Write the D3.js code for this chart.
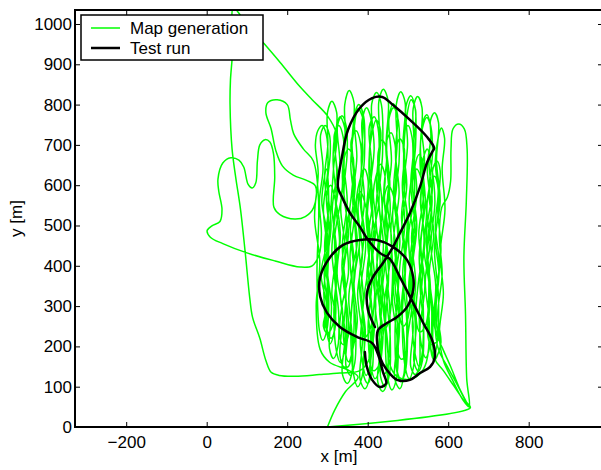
<!DOCTYPE html>
<html>
<head>
<meta charset="utf-8">
<script src="https://cdn.jsdelivr.net/npm/d3@7"></script>
<style>
  body { margin: 0; background: #fff; }
  svg { display: block; }
  text { font-family: "Liberation Sans", Arial, Helvetica, sans-serif; fill: #000; }
</style>
</head>
<body>
<svg id="chart" width="601" height="470"></svg>
<script>
// ---- data -------------------------------------------------------------
const xTicks = [-200, 0, 200, 400, 600, 800];
const yTicks = [0, 100, 200, 300, 400, 500, 600, 700, 800, 900, 1000];
const seriesNames = ["Map generation", "Test run"];
const seriesColors = ["#00ff00", "#000000"];
const xLabel = "x [m]";
const yLabel = "y [m]";

// survey (map generation) track, metres
const mapRun = [
  [300, 0], [318, 42], [345, 88], [376, 124], [350, 142], [306, 160], [282, 192],
  // pass A: west to east
  [272, 300], [281, 410], [268, 520], [277, 630], [270, 700], [276, 735], [287, 748], [297, 726], [301, 640], [290, 540],
  [299, 440], [291, 330], [298, 240], [306, 206], [315, 228],
  [321, 330], [311, 440], [322, 560], [314, 660], [320, 735], [331, 770], [343, 742], [340, 660], [349, 560], [337, 450],
  [346, 330], [340, 220], [352, 162], [361, 186],
  [366, 300], [356, 420], [368, 540], [358, 650], [366, 740], [376, 790], [388, 765], [384, 660], [392, 560], [379, 450],
  [389, 320], [382, 200], [396, 128], [405, 150],
  [411, 280], [401, 400], [413, 520], [403, 640], [410, 725], [421, 762], [432, 736], [428, 640], [436, 540], [423, 420],
  [434, 300], [428, 180], [442, 132], [451, 160],
  [455, 290], [444, 420], [456, 540], [447, 660], [453, 770], [463, 802], [474, 776], [469, 680], [478, 580], [465, 470],
  [475, 360], [468, 240], [472, 140], [482, 112], [491, 136],
  [497, 260], [487, 380], [498, 500], [489, 620], [497, 770], [508, 812], [519, 786], [514, 690], [522, 580], [509, 470],
  [519, 360], [511, 250], [518, 180], [527, 150], [534, 172],
  [538, 300], [528, 420], [539, 540], [530, 660], [536, 742], [547, 768], [557, 742], [552, 660], [560, 560], [548, 450],
  [556, 340], [550, 230], [555, 200], [564, 175], [571, 198],
  [576, 320], [566, 440], [577, 560], [568, 660], [576, 722], [583, 742], [591, 716], [585, 640], [592, 540], [580, 430],
  [588, 330], [578, 230], [588, 165],
  // south-east corner, then north along the eastern edge
  [612, 114], [636, 68], [652, 50], [646, 120], [643, 280], [639, 420], [645, 560], [647, 690], [640, 740], [626, 752],
  [612, 740], [607, 690], [606, 610], [598, 570], [584, 545],
  // pass B: east to west
  [578, 470], [585, 380], [574, 280], [582, 210], [576, 185], [566, 165], [557, 190], [563, 280], [553, 380], [564, 480],
  [552, 580], [561, 680], [557, 745], [547, 775], [535, 750], [541, 660], [531, 560], [542, 460], [530, 360], [539, 250],
  [536, 165], [526, 138], [515, 162],
  [521, 260], [510, 380], [522, 500], [511, 600], [519, 700], [518, 790], [507, 822], [495, 795], [499, 700], [490, 600],
  [501, 500], [492, 400], [499, 280], [494, 140], [484, 115], [473, 140],
  [479, 250], [468, 360], [480, 460], [468, 560], [478, 660], [476, 760], [464, 792], [453, 765], [459, 660], [449, 560],
  [460, 450], [447, 340], [456, 220], [454, 130], [443, 100], [432, 125],
  [438, 230], [427, 330], [439, 450], [428, 560], [437, 680], [434, 800], [422, 830], [410, 802], [416, 690], [406, 580],
  [417, 470], [404, 360], [413, 250], [411, 140], [400, 108], [389, 132],
  [394, 240], [383, 340], [395, 450], [384, 560], [392, 670], [390, 770], [378, 800], [367, 772], [373, 670], [363, 560],
  [374, 460], [361, 380], [370, 260], [368, 160], [357, 128], [346, 152],
  [352, 260], [340, 380], [352, 480], [341, 580], [349, 680], [347, 745], [336, 772], [325, 748], [331, 650], [320, 560],
  [330, 460], [319, 380], [328, 280], [326, 200], [315, 170], [305, 195],
  [310, 300], [299, 400], [309, 500], [300, 600], [307, 680], [305, 725], [294, 748], [283, 725], [289, 640], [280, 560],
  [285, 480], [280, 430],
  // western detour
  [262, 400], [232, 397], [170, 412], [100, 432], [40, 455], [9, 471], [1, 487], [13, 499], [33, 510], [38, 540],
  [30, 585], [28, 615], [40, 655], [60, 668], [80, 662], [92, 645], [103, 602], [113, 593], [122, 606], [126, 660],
  [132, 700], [145, 713], [157, 707], [166, 678], [169, 620], [167, 545], [182, 527], [219, 516], [245, 522], [266, 545],
  [270, 598], [248, 612], [215, 625], [188, 648], [172, 685], [160, 740], [147, 780], [152, 805], [175, 812], [200, 800],
  [208, 762], [216, 728], [240, 690], [265, 660], [278, 560], [274, 380], [280, 240], [288, 215], [298, 238],
  // pass C: west to east
  [303, 330], [293, 420], [302, 520], [293, 620], [301, 700], [300, 780], [311, 808], [323, 780], [319, 690], [327, 600],
  [315, 500], [324, 400], [316, 290], [322, 190], [332, 160], [342, 185],
  [347, 290], [336, 400], [348, 510], [337, 620], [345, 720], [343, 800], [354, 835], [366, 805], [361, 700], [369, 600],
  [357, 490], [366, 380], [358, 250], [365, 130], [375, 100], [386, 125],
  [391, 240], [379, 360], [390, 470], [380, 580], [388, 680], [386, 760], [397, 792], [408, 765], [404, 670], [412, 560],
  [400, 460], [410, 360], [401, 250], [408, 150], [418, 120], [429, 145],
  [433, 260], [421, 380], [433, 490], [422, 600], [430, 710], [428, 810], [439, 838], [451, 808], [446, 700], [455, 600],
  [443, 490], [452, 380], [444, 250], [450, 120], [460, 92], [471, 118],
  [475, 240], [463, 360], [475, 470], [464, 580], [473, 700], [471, 800], [482, 832], [493, 805], [488, 700], [497, 600],
  [485, 500], [494, 400], [486, 280], [493, 150], [503, 120], [513, 145],
  [518, 260], [506, 380], [518, 490], [507, 600], [515, 700], [513, 790], [524, 820], [535, 792], [531, 690], [539, 580],
  [527, 480], [536, 380], [528, 280], [534, 200], [544, 172], [554, 198],
  [559, 300], [547, 420], [559, 530], [548, 640], [557, 720], [556, 760], [566, 780], [576, 755], [571, 660], [580, 560],
  [568, 470], [577, 380], [570, 300], [576, 220], [586, 195],
  [606, 150], [628, 96], [650, 52],
  // pass D: back west
  [640, 64], [614, 102], [588, 140], [566, 170],
  [562, 250], [569, 350], [557, 450], [567, 560], [558, 650], [548, 690], [537, 660], [543, 560], [532, 450], [542, 350],
  [530, 250], [528, 150], [518, 130], [507, 150],
  [513, 250], [502, 350], [514, 460], [503, 560], [512, 650], [510, 720], [500, 748], [489, 725], [494, 620], [484, 520],
  [495, 420], [484, 300], [492, 200], [490, 130], [480, 95], [467, 120],
  [473, 220], [461, 320], [472, 420], [462, 520], [470, 620], [468, 700], [458, 730], [446, 705], [452, 600], [442, 500],
  [453, 400], [441, 300], [450, 200], [448, 110], [437, 88], [425, 112],
  [431, 200], [419, 300], [431, 410], [420, 520], [428, 640], [426, 740], [416, 770], [404, 745], [410, 640], [399, 520],
  [410, 420], [398, 320], [407, 220], [404, 120], [393, 95], [381, 118],
  [387, 220], [375, 330], [387, 430], [376, 540], [384, 630], [382, 705], [371, 735], [359, 710], [365, 620], [354, 520],
  [365, 420], [353, 320], [362, 220], [360, 130], [349, 108], [337, 132],
  [344, 230], [332, 330], [344, 440], [333, 540], [341, 640], [339, 720], [328, 748], [317, 725], [323, 630], [312, 540],
  [322, 440], [311, 330], [320, 280], [318, 240], [309, 220], [299, 242],
  [302, 340], [293, 450], [303, 550], [298, 640],
  // pass E: slanted legs, west to east
  [286, 560], [300, 470], [284, 380], [298, 300], [290, 250], [300, 232], [312, 250], [322, 360], [318, 470], [336, 580],
  [340, 660], [352, 690], [364, 668], [360, 580], [348, 480], [352, 380], [336, 300], [330, 230], [338, 205], [350, 220],
  [362, 320], [372, 430], [368, 520], [380, 610], [392, 640], [401, 612], [396, 520], [404, 420], [392, 330], [386, 250],
  [392, 222], [405, 240], [418, 340], [412, 460], [428, 560], [426, 680], [436, 712], [447, 688], [440, 580], [448, 480],
  [436, 380], [430, 280], [440, 240], [452, 262], [462, 380], [458, 500], [472, 600], [470, 690], [480, 715], [491, 690],
  [486, 600], [492, 500], [480, 400], [476, 300], [488, 250], [500, 270], [506, 380], [502, 480], [516, 570], [518, 650],
  [528, 676], [538, 650], [532, 560], [540, 460], [526, 360], [520, 270], [530, 235], [545, 256], [552, 360], [546, 480],
  [560, 580], [562, 640], [572, 660], [580, 636], [574, 540], [582, 440], [570, 330], [566, 250],
  // pass F: short legs, east to west
  [574, 215], [556, 205], [548, 240], [554, 340], [540, 440], [546, 540], [532, 620], [522, 640], [512, 612], [518, 520],
  [506, 420], [512, 320], [500, 230], [494, 180], [484, 168], [474, 190], [480, 300], [468, 400], [476, 500], [462, 580],
  [452, 600], [442, 574], [450, 480], [436, 380], [444, 280], [432, 190], [426, 150], [414, 140], [404, 165], [412, 270],
  [398, 370], [406, 470], [392, 560], [382, 584], [372, 560], [380, 460], [366, 360], [374, 260], [360, 180], [352, 150],
  [340, 150], [331, 178], [338, 280], [324, 380], [332, 480], [318, 570], [308, 600], [298, 580], [304, 480], [292, 380],
  [300, 300], [292, 240], [298, 320], [306, 500], [315, 640], [322, 728],
  // north-west leg and the long run back south
  [300, 772], [262, 812], [232, 844], [182, 905], [141, 953], [100, 1000], [66, 1040],
  [63, 990], [64, 930], [59, 860], [58, 800], [63, 690], [72, 620], [84, 540], [96, 430], [107, 320], [114, 272],
  [132, 220], [147, 165], [160, 136], [180, 128], [220, 126], [280, 130], [331, 134], [381, 140],
  // final pass, then home
  [402, 165], [420, 300], [410, 400], [421, 500], [414, 580], [420, 620], [432, 652], [443, 622], [436, 540], [446, 440],
  [436, 330], [446, 230], [456, 152], [472, 126], [502, 118], [530, 132], [546, 162], [553, 260], [543, 360], [555, 460],
  [547, 540], [555, 600], [566, 622], [575, 592], [568, 500], [578, 400], [567, 262], [576, 192], [598, 150], [622, 106],
  [645, 62], [655, 48], [300, 0]
];

// test run track, metres
const testRun = [
  [418, 248], [401, 290], [398, 332], [413, 372], [438, 407], [463, 447], [480, 481], [505, 531], [530, 596], [547, 655],
  [560, 682], [565, 692], [547, 720], [505, 762], [463, 799], [436, 819], [411, 816], [381, 792], [351, 737], [336, 670],
  [326, 596], [336, 571], [356, 531], [381, 496], [401, 464], [430, 432], [455, 417], [480, 372], [513, 308], [538, 258],
  [560, 216], [567, 174], [555, 149], [530, 134], [505, 117], [473, 117], [448, 141], [430, 174], [423, 216], [426, 241],
  [448, 258], [473, 273], [498, 298], [513, 340], [513, 372], [498, 414], [463, 447], [423, 464], [381, 464], [339, 452],
  [307, 422], [282, 372], [282, 323], [299, 283], [331, 248], [374, 223], [411, 208], [426, 179], [438, 136], [446, 109],
  [431, 99], [411, 117], [398, 149], [393, 186]
];

// ---- layout -----------------------------------------------------------
const svg = d3.select("#chart");
const L = 75, T = 10, R = 603, B = 427;
const x = d3.scaleLinear().domain([-327.2, 984.6]).range([L, R]);
const y = d3.scaleLinear().domain([0, 1034.7]).range([B, T]);

svg.append("defs").append("clipPath").attr("id", "plotClip")
  .append("rect").attr("x", L).attr("y", T).attr("width", R - L).attr("height", B - T);

const line = d3.line()
  .x(d => x(d[0])).y(d => y(d[1]))
  .curve(d3.curveCatmullRom.alpha(0.5));

const plot = svg.append("g").attr("clip-path", "url(#plotClip)");
plot.append("path").datum(mapRun)
  .attr("d", line).attr("fill", "none")
  .attr("stroke", seriesColors[0]).attr("stroke-width", 1.5)
  .attr("stroke-linejoin", "round");
plot.append("path").datum(testRun)
  .attr("d", line).attr("fill", "none")
  .attr("stroke", seriesColors[1]).attr("stroke-width", 2.5)
  .attr("stroke-linejoin", "round").attr("stroke-linecap", "round");

// ---- axes (ticks point inward) ----------------------------------------
const fontSize = "17px";
function styleAxis(g) {
  g.select(".domain").remove();
  g.selectAll(".tick line").attr("stroke", "#000").attr("stroke-width", 1);
  g.selectAll(".tick text").attr("font-size", fontSize)
    .attr("font-family", '"Liberation Sans", Arial, sans-serif').attr("fill", "#000");
}
svg.append("g").attr("transform", `translate(0,${B})`)
  .call(d3.axisBottom(x).tickValues(xTicks).tickSizeInner(-5).tickSizeOuter(0).tickPadding(9))
  .call(styleAxis);
svg.append("g").attr("transform", `translate(0,${T})`)
  .call(d3.axisTop(x).tickValues(xTicks).tickSizeInner(-5).tickSizeOuter(0).tickFormat(""))
  .call(styleAxis);
svg.append("g").attr("transform", `translate(${L},0)`)
  .call(d3.axisLeft(y).tickValues(yTicks).tickSizeInner(-5).tickSizeOuter(0).tickPadding(3)
    .tickFormat(d3.format("d")))
  .call(styleAxis);
svg.append("g").attr("transform", `translate(${R},0)`)
  .call(d3.axisRight(y).tickValues(yTicks).tickSizeInner(-5).tickSizeOuter(0).tickFormat(""))
  .call(styleAxis);

svg.append("rect").attr("x", L).attr("y", T).attr("width", R - L).attr("height", B - T)
  .attr("fill", "none").attr("stroke", "#000").attr("stroke-width", 2);

// axis titles
svg.append("text").attr("x", (L + R) / 2).attr("y", 462)
  .attr("text-anchor", "middle").attr("font-size", fontSize).text(xLabel);
svg.append("text").attr("transform", `translate(22,${(T + B) / 2}) rotate(-90)`)
  .attr("text-anchor", "middle").attr("font-size", fontSize).text(yLabel);

// ---- legend -----------------------------------------------------------
const legend = svg.append("g").attr("transform", "translate(81,15)");
legend.append("rect").attr("width", 182).attr("height", 45)
  .attr("fill", "#fff").attr("stroke", "#000").attr("stroke-width", 1.5);
seriesNames.forEach((name, i) => {
  const ly = 13 + i * 20;
  legend.append("line").attr("x1", 10).attr("x2", 39).attr("y1", ly).attr("y2", ly)
    .attr("stroke", seriesColors[i]).attr("stroke-width", i === 0 ? 1.5 : 2.5);
  legend.append("text").attr("x", 49).attr("y", ly + 6)
    .attr("font-size", fontSize).text(name);
});
</script>
</body>
</html>
